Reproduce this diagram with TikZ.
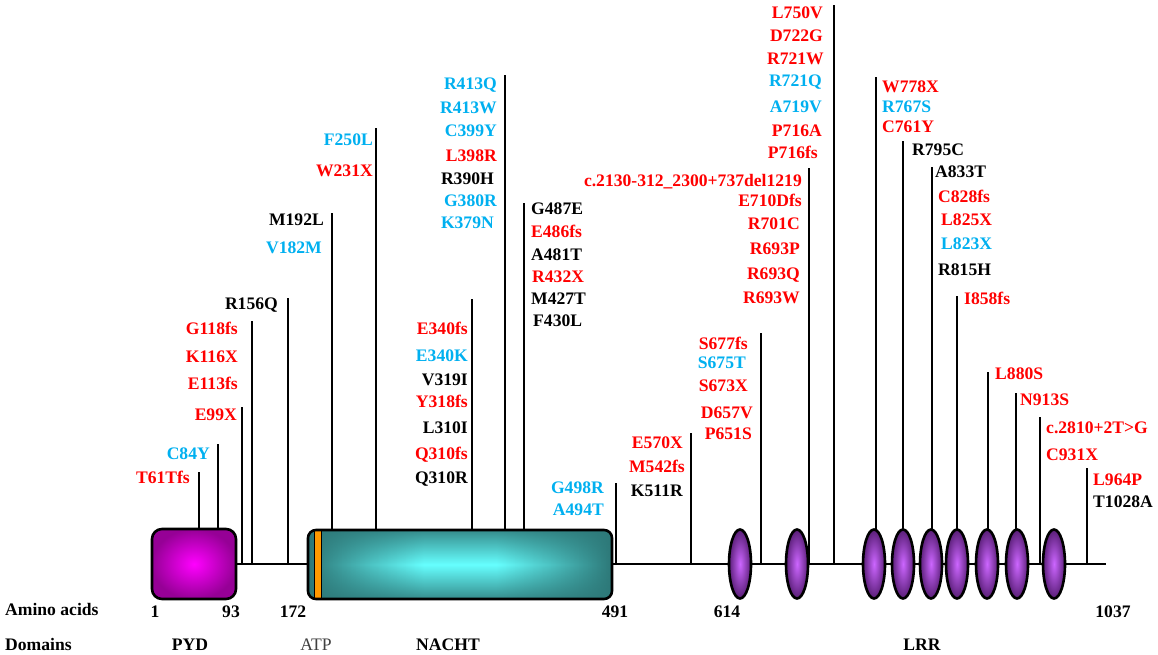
\documentclass[tikz,border=0pt]{standalone}
\usepackage{fontspec}
\setmainfont{Liberation Serif}
\usetikzlibrary{fadings}
\definecolor{mred}{RGB}{255,0,0}
\definecolor{mblue}{RGB}{0,176,240}
\definecolor{mblack}{RGB}{0,0,0}
\definecolor{tdark}{RGB}{45,120,120}
\definecolor{tlight}{RGB}{102,255,255}
\definecolor{pdark}{RGB}{150,0,150}
\definecolor{plight}{RGB}{255,0,255}
\definecolor{edark}{RGB}{90,30,120}
\definecolor{elight}{RGB}{204,102,255}
\definecolor{atpc}{RGB}{255,153,0}
\pgfdeclarehorizontalshading{nachtshade}{100bp}{color(0bp)=(tdark); color(25bp)=(tdark); color(35bp)=(tdark!45!tlight); color(44bp)=(tlight); color(56bp)=(tlight); color(65bp)=(tdark!45!tlight); color(75bp)=(tdark); color(100bp)=(tdark)}
\tikzfading[name=vfade, top color=transparent!15, bottom color=transparent!15, middle color=transparent!100]
\begin{document}
\begin{tikzpicture}[x=1pt,y=-1pt,
  lab/.style={font=\fontsize{17.6}{20}\selectfont\bfseries, inner sep=0pt},
  stem/.style={line width=1.6pt, black},
  outl/.style={line width=2.6pt, black},
  lrr/.style={outl, inner color=elight, outer color=edark}]
\useasboundingbox (0,0) rectangle (1158,655);
\fill[white] (0,0) rectangle (1158,655);
% stems
\foreach \x/\t/\b [count=\i] in {199/472/530, 218/444/530, 242/407/564, 252/321/564, 288/298/564,
  332/213/530, 376/128/530, 472/299/530, 505/75/530, 524/203/530, 616/483/564, 691/433/564,
  761/333/564, 809/168/564, 834/5/564, 876/77/564, 903/141/564, 932/167/564, 957/296/564,
  988/372/564, 1016/393/564, 1040/417/564, 1087/468/564}{
  \coordinate (t\i) at (\x,\t);
  \coordinate (b\i) at (\x,\b);
  \draw[stem] (b\i) -- (t\i);
}
% backbone
\coordinate (bbA) at (236,564);
\coordinate (bbB) at (1106,564);
\draw[stem] (bbA) -- (bbB);
% PYD
\shade[inner color=plight, outer color=pdark, rounded corners=10pt] (152,529) rectangle (236,599);
\draw[outl, rounded corners=10pt] (152,529) rectangle (236,599);
% NACHT
\shade[shading=nachtshade, rounded corners=8pt] (308,530) rectangle (612,599);
\fill[tdark, path fading=vfade, rounded corners=8pt] (308,530) rectangle (612,599);
\draw[line width=1pt, black, fill=atpc] (314,530) rectangle (321,599);
\draw[outl, rounded corners=8pt] (308,530) rectangle (612,599);
% LRR
\foreach \x [count=\i] in {740,797,874,903,931,957,987,1017,1054}{
  \shade[lrr] (\x,564) ellipse [x radius=11, y radius=34.5];
  \draw[outl] (\x,564) ellipse [x radius=11, y radius=34.5];
}
% labels placed left of stems
\foreach \x/\y/\c/\t [count=\i] in {
  190/477/mred/T61Tfs, 210/453/mblue/C84Y,
  237/414/mred/E99X, 238/383/mred/E113fs, 238/356/mred/K116X, 238/328/mred/G118fs,
  278/303/mblack/R156Q, 324/219/mblack/M192L, 322/247/mblue/V182M,
  373/140/mblue/F250L, 373/171/mred/W231X,
  468/328/mred/E340fs, 468/355/mblue/E340K, 468/379/mblack/V319I, 468/401/mred/Y318fs,
  468/427/mblack/L310I, 468/453/mred/Q310fs, 468/477/mblack/Q310R,
  497/84/mblue/R413Q, 497/108/mblue/R413W, 497/131/mblue/C399Y, 497/155/mred/L398R,
  494/178/mblack/R390H, 497/200/mblue/G380R, 494/222/mblue/K379N,
  604/487/mblue/G498R, 604/509/mblue/A494T,
  683/442/mred/E570X, 685/466/mred/M542fs, 683/490/mblack/K511R,
  748/343/mred/S677fs, 746/362/mblue/S675T, 748/385/mred/S673X, 753/412/mred/D657V, 752/433/mred/P651S,
  802/180/mred/c.2130-312\_2300+737del1219, 802/200/mred/E710Dfs, 800/223/mred/R701C,
  800/248/mred/R693P, 800/273/mred/R693Q, 800/297/mred/R693W,
  823/13/mred/L750V, 823/36/mred/D722G, 824/59/mred/R721W, 822/81/mblue/R721Q,
  822/107/mblue/A719V, 822/131/mred/P716A, 818/153/mred/P716fs}{
  \node[lab, text=\c, anchor=base east] (e\i) at (\x,\y+6) {\t};
}
% labels placed right of stems
\foreach \x/\y/\c/\t [count=\i] in {
  531/208/mblack/G487E, 531/231/mred/E486fs, 531/254/mblack/A481T, 532/276/mred/R432X,
  531/298/mblack/M427T, 533/320/mblack/F430L,
  882/87/mred/W778X, 882/107/mblue/R767S, 882/127/mred/C761Y,
  912/150/mblack/R795C,
  935/172/mblack/A833T, 938/196/mred/C828fs, 941/219/mred/L825X, 941/243/mblue/L823X, 938/269/mblack/R815H,
  964/298/mred/I858fs, 995/373/mred/L880S, 1020/399/mred/N913S,
  1046/427/mred/c.2810+2T>G, 1046/454/mred/C931X,
  1093/479/mred/L964P, 1093/501/mblack/T1028A}{
  \node[lab, text=\c, anchor=base west] (w\i) at (\x,\y+6) {\t};
}
% axis labels
\node[lab, anchor=base west] (aa) at (5,615) {Amino acids};
\node[lab, anchor=base west] (dom) at (5,650) {Domains};
\foreach \x/\t [count=\i] in {155/1, 231/93, 293/172, 615/491, 727/614, 1113/1037}{
  \node[lab, anchor=base] (n\i) at (\x,617) {\t};
}
\node[lab, anchor=base] (dPYD) at (190,650) {PYD};
\node[font=\fontsize{17.6}{20}\selectfont, inner sep=0pt, text=black!75, anchor=base] (dATP) at (316,650) {ATP};
\node[lab, anchor=base] (dNACHT) at (448,650) {NACHT};
\node[lab, anchor=base] (dLRR) at (922,650) {LRR};
\end{tikzpicture}
\end{document}
